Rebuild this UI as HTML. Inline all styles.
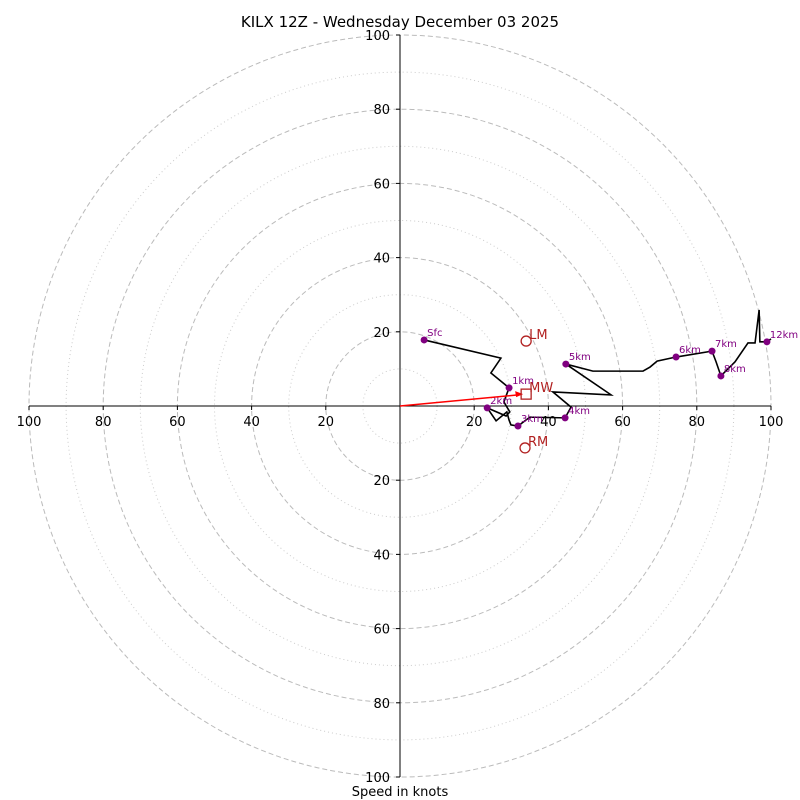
<!DOCTYPE html>
<html><head><meta charset="utf-8"><style>
body{margin:0;background:#fff}
svg{display:block;font-family:"DejaVu Sans","Liberation Sans",sans-serif}
</style></head><body>
<svg id="c" width="800" height="800"></svg>
<script>
const ringsMajor=[20,40,60,80,100];
const ringsMinor=[10,30,50,70,90];
const tickLabels=[20,40,60,80,100];
const traceU=[6.5,27.2,24.5,29.4,28.0,29.6,28.6,23.5,25.9,28.8,29.4,29.9,31.8,35.0,44.5,46.1,41.2,56.9,44.7,52.0,65.5,67.4,69.3,74.4,84.1,85.2,86.5,90.3,93.8,95.7,96.8,97.0,98.9,100];
const traceV=[17.8,12.9,8.9,4.9,1.1,-1.6,-2.7,-0.5,-4.0,-1.6,-3.8,-5.1,-5.4,-3.0,-3.2,-0.3,3.8,3.0,11.3,9.4,9.4,10.5,12.1,13.2,14.8,11.9,8.1,11.9,17.0,17.0,25.9,17.3,17.3,18.1];
const markerLabels=["Sfc","1km","2km","3km","4km","5km","6km","7km","8km","12km"];
const markerIdx=[0,3,7,12,14,18,23,24,26,32];
const motionNames=["LM","MW","RM"];
const motionU=[34.0,34.0,33.7];
const motionV=[17.5,3.2,-11.3];
const cx=400,cy=406,sc=3.71;
const X=u=>cx+u*sc, Y=v=>cy-v*sc;
const svg=document.getElementById('c');const NS="http://www.w3.org/2000/svg";
function el(t,a,txt){const e=document.createElementNS(NS,t);for(const k in a)e.setAttribute(k,a[k]);if(txt!==undefined)e.textContent=txt;svg.appendChild(e);return e;}
ringsMinor.forEach(r=>{const e=el('circle',{cx,cy,r:r*sc,fill:'none',stroke:'#ccc','stroke-width':1,'stroke-dasharray':'1,3'});

});
ringsMajor.forEach(r=>{const e=el('circle',{cx,cy,r:r*sc,fill:'none',stroke:'#bbb','stroke-width':1,'stroke-dasharray':'5,3'});

});
let a=el('line',{x1:X(-100),y1:cy,x2:X(100),y2:cy,stroke:'#000'});


a=el('line',{x1:cx,y1:Y(100),x2:cx,y2:Y(-100),stroke:'#000'});


tickLabels.forEach(t=>{[1,-1].forEach(s=>{
 let e=el('text',{x:X(s*t),y:cy+20,'text-anchor':'middle','font-size':13},t);
 
 
 e=el('text',{x:cx-10,y:Y(s*t)+5,'text-anchor':'end','font-size':13},t);
 
 
 el('line',{x1:X(s*t),y1:cy,x2:X(s*t),y2:cy+4,stroke:'#000'});
 el('line',{x1:cx-4,y1:Y(s*t),x2:cx,y2:Y(s*t),stroke:'#000'});
});});
let p=el('polyline',{points:traceU.map((u,i)=>X(u)+','+Y(traceV[i])).join(' '),fill:'none',stroke:'#000','stroke-width':1.6});


markerIdx.forEach((k,i)=>{
 let c=el('circle',{cx:X(traceU[k]),cy:Y(traceV[k]),r:3.5,fill:'#800080'});
 
 
 let t=el('text',{x:X(traceU[k])+3,y:Y(traceV[k])-4,'font-size':10,fill:'#800080'},markerLabels[i]);
 
 
});
let ar=el('line',{x1:cx,y1:cy,x2:X(motionU[1])-8,y2:Y(motionV[1])+0.8,stroke:'#f00','stroke-width':1.5});


ar=el('polygon',{points:`${X(motionU[1])-3},${Y(motionV[1])} ${X(motionU[1])-11},${Y(motionV[1])-3} ${X(motionU[1])-10},${Y(motionV[1])+3}`,fill:'#f00'});


motionNames.forEach((n,i)=>{
 const x=X(motionU[i]),y=Y(motionV[i]);
 let m=n==='MW'?el('rect',{x:x-5,y:y-5,width:10,height:10,fill:'none',stroke:'#b22222','stroke-width':1.3}):el('circle',{cx:x,cy:y,r:5,fill:'none',stroke:'#b22222','stroke-width':1.3});
 
 
 let t=el('text',{x:x+3,y:y-2,'font-size':13,fill:'#b22222'},n);
 
 
});
let t=el('text',{x:400,y:27,'text-anchor':'middle','font-size':15},'KILX 12Z - Wednesday December 03 2025');


t=el('text',{x:400,y:796,'text-anchor':'middle','font-size':13},'Speed in knots');


</script>
</body></html>
